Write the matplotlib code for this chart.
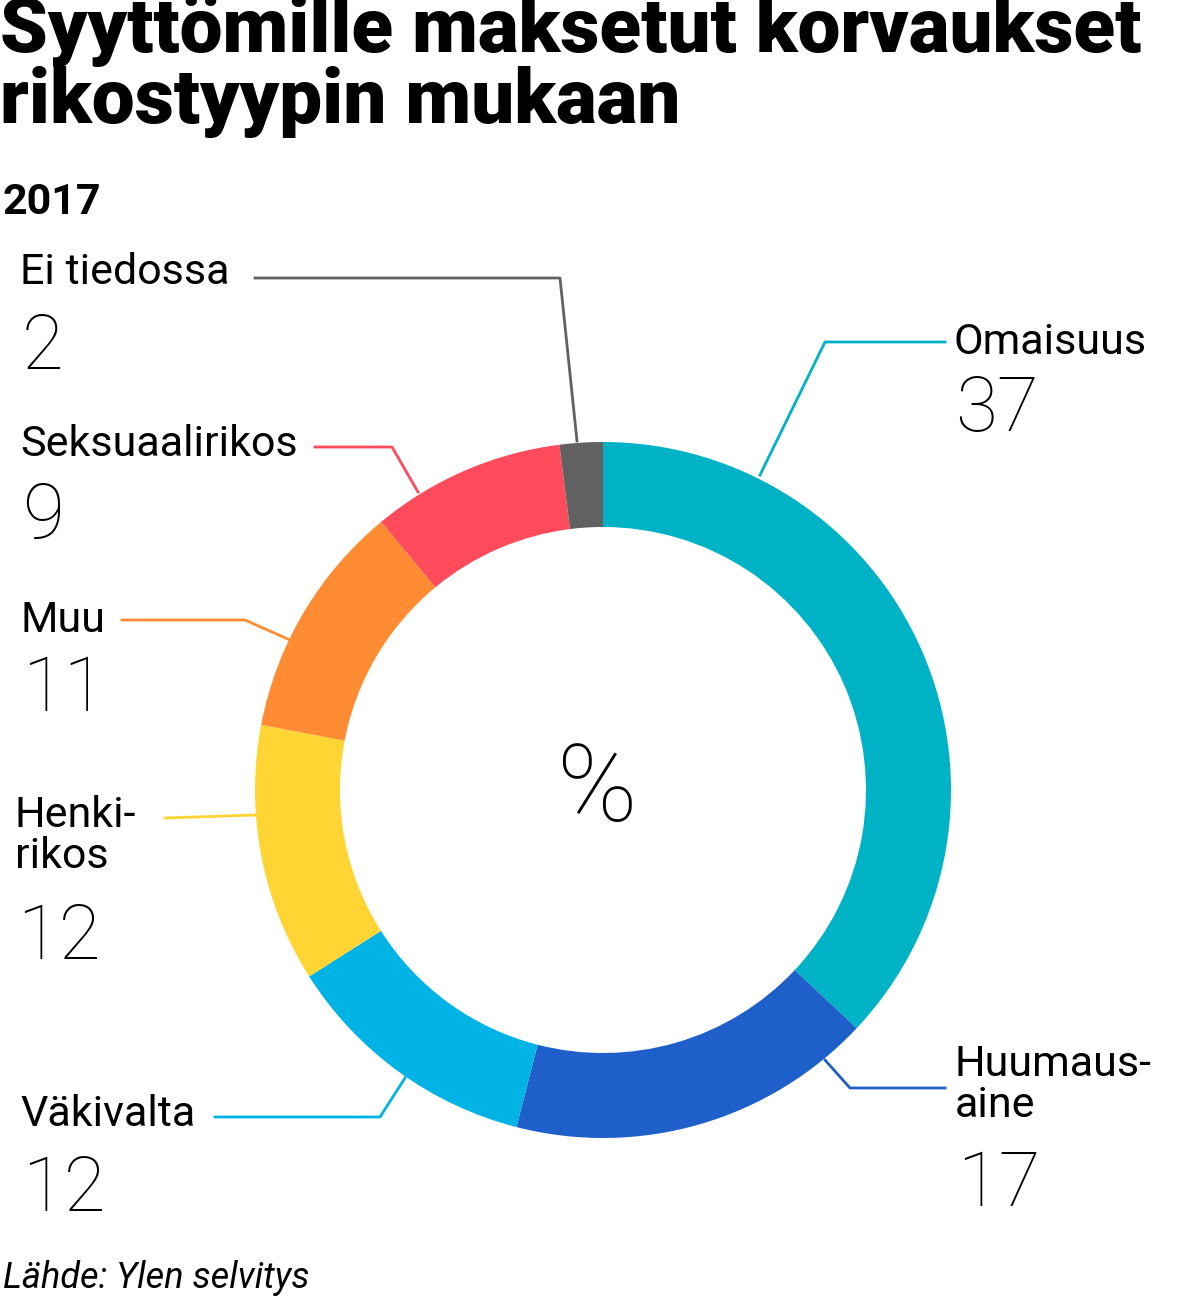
import matplotlib
matplotlib.use("Agg")
import matplotlib.pyplot as plt

categories = ["Omaisuus", "Huumausaine", "Väkivalta", "Henkirikos", "Muu", "Seksuaalirikos", "Ei tiedossa"]
values = [37, 17, 12, 12, 11, 9, 2]
label_texts = ["Omaisuus", "Huumaus-\naine", "Väkivalta", "Henki-\nrikos", "Muu", "Seksuaalirikos", "Ei tiedossa"]
colors = ["#00B2C6", "#1E5FC9", "#00B3E5", "#FFD433", "#FF8C33", "#FF4B5C", "#616161"]

W, H = 1199, 1311
fig = plt.figure(figsize=(W/100, H/100), dpi=100)

cx, cy, R, r = 603, 790, 348, 263
pax = fig.add_axes([(cx-R)/W, (H-cy-R)/H, 2*R/W, 2*R/H])
pax.pie(values, colors=colors, startangle=90, counterclock=False, radius=1,
        wedgeprops=dict(width=(R-r)/R, linewidth=0))
pax.set_xlim(-1, 1); pax.set_ylim(-1, 1); pax.axis("off")

ax2 = fig.add_axes([0, 0, 1, 1])
ax2.set_xlim(0, W); ax2.set_ylim(H, 0); ax2.axis("off"); ax2.patch.set_alpha(0)

ax2.text(0, -5, "Syyttömille maksetut korvaukset\nrikostyypin mukaan", fontsize=55, fontweight="black",
         family="Roboto", va="top", ha="left", linespacing=0.98)
ax2.text(3, 203, "2017", fontsize=31, fontweight="bold", family="Roboto", va="center")
ax2.text(597, 792, "%", fontsize=78, fontweight="light", family="Roboto", ha="center", va="center")

layout = [
    (953, 343, 410, [(760, 475), (825, 342), (945, 342)]),
    (955, 1085, 1185, [(825, 1060), (850, 1088), (945, 1088)]),
    (20, 1115, 1190, [(405, 1078), (380, 1117), (215, 1117)]),
    (15, 836, 938, [(255, 815), (165, 818)]),
    (20, 620, 690, [(290, 640), (245, 620), (122, 620)]),
    (20, 445, 517, [(418, 492), (392, 447), (315, 447)]),
    (20, 272, 348, [(577, 441), (560, 278), (255, 278)]),
]
for (lx, ly, ny, pts), txt, v, c in zip(layout, label_texts, values, colors):
    ax2.text(lx, ly, txt, fontsize=31, family="Roboto", va="center", ha="left", linespacing=1.0)
    ax2.text(lx + 2, ny, str(v), fontsize=55, fontweight="light", family="Roboto", va="center", ha="left")
    ax2.plot([p[0] for p in pts], [p[1] for p in pts], color=c, lw=2)

ax2.text(3, 1278, "Lähde: Ylen selvitys", fontsize=26, style="italic", family="Roboto", va="center")
fig.savefig("out.png", dpi=100)
